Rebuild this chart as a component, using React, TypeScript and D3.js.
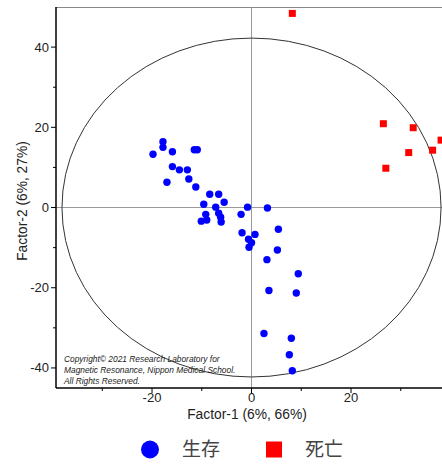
import * as d3 from 'd3';
import { useRef, useEffect } from 'react';

// Factor-1 / Factor-2 scores
const survived: [number, number][] = [
  [-19.8, 13.3], [-17.8, 16.4], [-17.8, 15.0], [-15.9, 13.9], [-17.0, 6.3],
  [-15.9, 10.2], [-14.5, 9.4], [-12.9, 9.4], [-12.6, 7.1], [-11.5, 14.4],
  [-10.9, 14.4], [-11.2, 5.1], [-8.4, 3.3], [-6.6, 3.3], [-5.5, 1.3],
  [-9.6, 0.8], [-7.2, 0.1], [-9.2, -1.7], [-6.6, -1.4], [-6.2, -2.4],
  [-10.1, -3.4], [-9.0, -3.1], [-6.1, -3.6], [-0.8, 0.1], [3.2, -0.1],
  [-2.1, -1.7], [5.4, -5.4], [-1.9, -6.3], [0.7, -6.7], [-0.6, -7.9],
  [0.0, -8.8], [-0.5, -9.9], [5.2, -10.6], [3.1, -13.0], [9.4, -16.5],
  [3.5, -20.7], [9.0, -21.3], [2.5, -31.4], [8.0, -32.6], [7.6, -36.7],
  [8.2, -40.7],
];

const deceased: [number, number][] = [
  [8.2, 48.4], [26.5, 20.9], [32.5, 19.9], [31.6, 13.7], [27.0, 9.8],
  [36.4, 14.3], [38.1, 16.8],
];

const xMajorTicks = [-20, 0, 20];
const xMinorTicks = [-30, -10, 10, 30];
const yMajorTicks = [-40, -20, 0, 20, 40];
const yMinorTicks = [-30, -10, 10, 30];

const legendLabels = ['生存', '死亡'];
const copyrightLines = [
  'Copyright© 2021 Research Laboratory for',
  'Magnetic Resonance, Nippon Medical School.',
  'All Rights Reserved.',
];

// Hotelling ellipse radii (in data units)
const ellipseR = { x: 38.1, y: 42.25 };

const width = 442;
const height = 464;
const margin = { top: 7, left: 56, bottom: 388 };

const App = () => {
  const ref = useRef<SVGSVGElement>(null);

  useEffect(() => {
    if (!ref.current) return;
    const svg = d3.select(ref.current);
    svg.selectAll('*').remove();

    const x = d3.scaleLinear().domain([-39.3, 40]).range([margin.left, margin.left + 79.3 * 4.975]);
    const y = d3.scaleLinear().domain([-45, 50]).range([margin.bottom, margin.top]);
    const x0 = x.range()[0], x1 = x.range()[1];
    const y0 = y.range()[0], y1 = y.range()[1];
    const font = 'Arial, "Liberation Sans", sans-serif';

    // frame top + zero lines
    svg.append('line').attr('x1', x0).attr('x2', x1).attr('y1', y1 + 0.5).attr('y2', y1 + 0.5)
      .attr('stroke', '#888').attr('stroke-width', 1);
    svg.append('line').attr('x1', x0).attr('x2', x1).attr('y1', y(0)).attr('y2', y(0))
      .attr('stroke', '#999').attr('stroke-width', 1);
    svg.append('line').attr('x1', x(0)).attr('x2', x(0)).attr('y1', y0).attr('y2', y1)
      .attr('stroke', '#999').attr('stroke-width', 1);

    // ellipse
    svg.append('ellipse')
      .attr('cx', x(0)).attr('cy', y(0))
      .attr('rx', x(ellipseR.x) - x(0)).attr('ry', y(0) - y(ellipseR.y))
      .attr('fill', 'none').attr('stroke', '#333').attr('stroke-width', 1);

    // copyright
    const cp = svg.append('text').attr('x', 64).attr('y', 362)
      .attr('font-family', font).attr('font-style', 'italic').attr('font-size', 8.4).attr('fill', '#222');
    copyrightLines.forEach((t, i) => {
      cp.append('tspan').attr('x', 64).attr('dy', i === 0 ? 0 : 11).text(t);
    });

    // points
    svg.append('g').selectAll('circle').data(survived).enter().append('circle')
      .attr('cx', d => x(d[0])).attr('cy', d => y(d[1])).attr('r', 3.7).attr('fill', '#0000ff');
    const s = 7;
    svg.append('g').selectAll('rect').data(deceased).enter().append('rect')
      .attr('x', d => x(d[0]) - s / 2).attr('y', d => y(d[1]) - s / 2)
      .attr('width', s).attr('height', s).attr('fill', '#ff0000');

    // axes
    const ax = svg.append('g');
    ax.append('line').attr('x1', x0).attr('x2', x1).attr('y1', y0).attr('y2', y0)
      .attr('stroke', '#000').attr('stroke-width', 1.5);
    ax.append('line').attr('x1', x0).attr('x2', x0).attr('y1', y0).attr('y2', y1)
      .attr('stroke', '#000').attr('stroke-width', 1.5);

    xMajorTicks.forEach(t => {
      ax.append('line').attr('x1', x(t)).attr('x2', x(t)).attr('y1', y0).attr('y2', y0 + 5)
        .attr('stroke', '#000');
      ax.append('text').attr('x', x(t)).attr('y', 402).attr('text-anchor', 'middle')
        .attr('font-family', font).attr('font-size', 13).attr('fill', '#222').text(t);
    });
    xMinorTicks.forEach(t => {
      ax.append('line').attr('x1', x(t)).attr('x2', x(t)).attr('y1', y0).attr('y2', y0 + 3)
        .attr('stroke', '#000');
    });
    yMajorTicks.forEach(t => {
      ax.append('line').attr('x1', x0 - 5).attr('x2', x0).attr('y1', y(t)).attr('y2', y(t))
        .attr('stroke', '#000');
      ax.append('text').attr('x', 49).attr('y', y(t)).attr('dy', '0.35em').attr('text-anchor', 'end')
        .attr('font-family', font).attr('font-size', 13).attr('fill', '#222').text(t);
    });
    yMinorTicks.forEach(t => {
      ax.append('line').attr('x1', x0 - 3).attr('x2', x0).attr('y1', y(t)).attr('y2', y(t))
        .attr('stroke', '#000');
    });

    // axis titles
    svg.append('text').attr('x', 247).attr('y', 419).attr('text-anchor', 'middle')
      .attr('font-family', font).attr('font-size', 13.8).attr('fill', '#222').text('Factor-1 (6%, 66%)');
    svg.append('text').attr('transform', 'translate(27,201) rotate(-90)').attr('text-anchor', 'middle')
      .attr('font-family', font).attr('font-size', 13.8).attr('fill', '#222').text('Factor-2 (6%, 27%)');

    // legend
    const lg = svg.append('g');
    lg.append('circle').attr('cx', 150).attr('cy', 449.5).attr('r', 9).attr('fill', '#0000ff');
    lg.append('text').attr('x', 182).attr('y', 449.5).attr('dy', '0.36em')
      .attr('font-family', '"Noto Sans CJK JP", sans-serif').attr('font-size', 19).attr('fill', '#444')
      .text(legendLabels[0]);
    lg.append('rect').attr('x', 266).attr('y', 441.5).attr('width', 16).attr('height', 16).attr('fill', '#ff0000');
    lg.append('text').attr('x', 305).attr('y', 449.5).attr('dy', '0.36em')
      .attr('font-family', '"Noto Sans CJK JP", sans-serif').attr('font-size', 19).attr('fill', '#444')
      .text(legendLabels[1]);
  }, []);

  return (
    <svg ref={ref} width={width} height={height}
      style={{ position: 'absolute', left: 0, top: 0, background: '#fff' }} />
  );
};

export default App;
